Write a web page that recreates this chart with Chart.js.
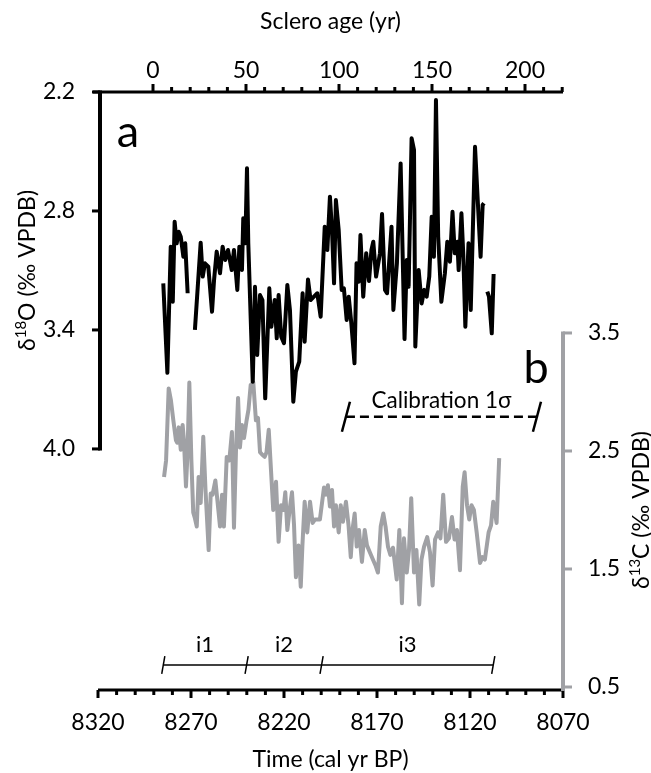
<!DOCTYPE html>
<html><head><meta charset="utf-8">
<script src="https://cdn.jsdelivr.net/npm/chart.js@4.4.0/dist/chart.umd.min.js"></script>
<style>html,body{margin:0;padding:0;background:#fff}#wrap{width:651px;height:773px}</style>
</head><body><div id="wrap"><canvas id="c" width="651" height="773"></canvas></div>
<script>
const timeTicks = [8320, 8270, 8220, 8170, 8120, 8070];
const scleroTicks = [0, 50, 100, 150, 200];
const d18OTicks = [2.2, 2.8, 3.4, 4.0];
const d13CTicks = [0.5, 1.5, 2.5, 3.5];

const d18OTime = [8284.9,8282.7,8280.9,8279.8,8278.8,8277.7,8276.6,8275.5,8274.1,8273.1,8271.8,8270.0,
8267.9,8264.8,8263.7,8262.5,8260.7,8258.7,8257.6,8256.2,8254.4,8253.0,8251.6,8250.1,8248.1,8246.9,8245.1,8244.0,8242.6,8241.9,8240.8,8239.9,8239.2,
8236.8,8235.6,8234.4,8232.9,8231.6,8230.1,8227.9,8226.8,8225.0,8223.9,8222.9,8221.5,8220.0,8218.2,8216.8,8215.0,8213.6,8211.8,8210.0,8208.9,8207.1,8205.7,8203.9,8202.1,8200.3,
8198.1,8196.7,8195.3,8194.2,8193.1,8192.1,8190.6,8189.0,8187.8,8186.3,8185.2,8183.8,8182.1,8181.0,8179.8,8178.9,8177.4,8175.8,8174.3,8173.0,8172.0,8170.5,8168.4,8167.3,8165.7,8164.6,8162.2,8161.2,8159.3,8157.3,
8155.2,8154.0,8153.0,8151.4,8150.1,8149.4,8147.6,8146.0,8144.6,8143.3,8141.9,8140.6,8139.4,8138.3,8137.1,8135.4,8133.5,8132.2,8130.8,8129.4,8128.2,8126.8,8126.1,8124.6,8123.6,8122.5,8120.8,8119.6,8117.3,8114.3,8113.2,8112.5,8111.6,
8110.7,8109.8,8108.3,8107.3];
const d18OValue = [3.165,3.616,2.980,3.258,2.854,2.963,2.905,2.930,3.031,2.963,3.215,null,
3.400,2.960,3.131,3.064,3.081,3.308,3.148,3.005,3.114,2.980,3.047,2.997,3.098,2.997,3.198,2.980,3.098,2.837,2.963,2.585,2.963,
3.661,3.182,3.526,3.224,3.249,3.745,3.190,3.384,3.249,3.442,3.224,3.434,3.467,3.173,3.300,3.762,3.610,3.560,3.215,3.459,3.145,3.249,3.232,3.215,3.333,
2.879,2.997,2.728,2.896,3.165,2.745,2.896,3.198,3.190,3.350,3.232,3.366,3.568,3.064,3.157,2.921,3.232,3.013,3.153,2.997,2.955,3.131,3.013,2.815,3.198,3.215,2.879,3.299,3.064,2.560,
3.446,3.047,3.182,2.433,2.492,3.484,3.098,3.266,3.198,3.232,3.131,2.829,3.031,2.240,2.930,3.258,3.114,2.955,3.056,2.804,3.013,2.955,3.098,2.812,3.022,3.384,2.963,3.299,2.476,3.031,2.770,2.761,null,
3.207,3.232,3.417,3.118];

const d13CTime = [8284.5,8283.4,8282.0,8280.8,8279.5,8278.1,8277.4,8276.6,8275.5,8274.5,
8273.8,8272.7,8271.9,8270.9,8269.8,8268.8,8267.9,8266.9,8265.9,8264.8,
8263.4,8262.2,8260.5,8259.4,8258.4,8256.9,8255.8,8254.4,8253.3,8252.3,
8250.8,8249.4,8248.0,8246.9,8245.8,8244.7,8243.7,8242.6,8241.5,8240.1,
8239.1,8237.9,8236.5,8235.1,8234.0,8232.9,8231.8,8230.4,8229.4,8228.2,
8227.0,8225.8,8224.3,8222.9,8221.6,8220.3,8219.3,8218.2,8217.0,8215.7,
8214.6,8213.6,8212.2,8211.0,8210.1,8208.9,8207.5,8206.0,8204.6,8203.3,
8202.0,8200.7,8198.5,8197.4,8196.4,8195.3,8194.2,8193.1,8192.1,8190.6,
8189.5,8188.3,8186.7,8185.3,8184.1,8183.2,8182.0,8180.9,8179.7,8178.1,
8176.6,8175.4,8173.8,8172.2,8170.8,8169.5,8168.0,8166.6,8165.4,8164.1,
8162.8,8161.4,8159.4,8158.0,8156.6,8155.5,8154.0,8152.8,8151.6,8150.1,
8148.8,8147.3,8146.1,8144.7,8143.0,8141.5,8140.1,8138.8,8137.2,8135.9,
8134.4,8132.9,8131.3,8129.7,8128.3,8127.0,8125.4,8123.9,8122.9,8121.6,
8120.4,8119.2,8117.9,8116.4,8114.6,8113.3,8112.0,8110.0,8108.7,8107.5,
8105.7,8104.3];
const d13CValue = [2.28,2.42,3.03,2.93,2.76,2.59,2.57,2.70,2.51,2.72,
2.59,2.20,2.47,3.08,2.42,1.98,1.93,1.86,2.28,2.06,
2.62,2.17,1.66,2.14,2.13,2.25,2.08,1.86,2.13,1.86,
2.45,2.42,2.66,1.85,2.51,2.95,2.53,2.72,2.61,2.76,
2.85,3.06,3.08,2.76,2.78,2.49,2.47,2.45,2.49,2.68,
2.34,2.00,2.24,1.73,2.04,2.00,2.15,1.83,2.00,2.15,
1.87,1.43,1.70,1.35,1.70,2.07,1.81,2.07,1.89,1.92,
1.92,1.92,2.19,2.13,2.21,2.03,2.17,1.86,2.04,1.81,
2.04,1.90,2.07,1.87,1.60,1.83,1.97,1.69,1.83,1.56,
1.83,1.70,1.64,1.58,1.53,1.47,1.86,1.97,1.86,1.69,
1.62,1.68,1.41,1.83,1.21,1.76,1.47,1.66,2.10,1.47,
1.66,1.20,1.58,1.69,1.77,1.64,1.36,1.75,1.81,1.76,
2.13,1.73,1.76,1.94,1.75,1.83,1.49,2.20,2.32,2.04,
1.92,2.04,2.00,1.81,1.55,1.60,1.58,1.81,1.87,2.07,
1.89,2.44];

const intervalTime = [8284.9, 8240.1, 8199.8, 8107.5];
const intervalLabels = ['i1', 'i2', 'i3'];
const intervalLevel = 0.686;      // on the δ13C scale
const calibrationTime = [8186.7, 8084.0];
const calibrationLevel = 2.79;    // on the δ13C scale
const calibrationLabel = 'Calibration 1σ';

const FONT = "Lato, 'Open Sans', sans-serif";
const GRAY = '#a0a1a5';

function pts(xs, ys) { return xs.map((t, i) => ({ x: t, y: ys[i] })); }
function setTicks(vals) { return s => { s.ticks = vals.map(v => ({ value: v })); }; }

function richText(ctx, parts, cx, cy, rot) {
  ctx.save();
  ctx.translate(cx, cy);
  ctx.rotate(rot);
  ctx.textBaseline = 'alphabetic';
  ctx.textAlign = 'left';
  let total = 0;
  parts.forEach(p => { ctx.font = p.font; total += ctx.measureText(p.t).width; });
  let x = -total / 2;
  parts.forEach(p => {
    ctx.font = p.font;
    ctx.fillStyle = '#000';
    ctx.fillText(p.t, x, 8 + (p.dy || 0));
    x += ctx.measureText(p.t).width;
  });
  ctx.restore();
}

const axesPlugin = {
  id: 'axesDeco',
  beforeDatasetsDraw(chart) {
    const ctx = chart.ctx;
    const { x, xTop, y, yR } = chart.scales;
    const ca = chart.chartArea;
    ctx.save();
    ctx.lineCap = 'butt';
    const seg = (x1, y1, x2, y2) => { ctx.beginPath(); ctx.moveTo(x1, y1); ctx.lineTo(x2, y2); ctx.stroke(); };
    // top axis
    ctx.strokeStyle = '#000';
    ctx.lineWidth = 3;
    seg(ca.left - 5, ca.top, ca.right, ca.top);
    for (let v = 0; v <= 220; v += 10) {
      const px = xTop.getPixelForValue(v);
      seg(px, ca.top, px, ca.top - (v % 50 === 0 ? 8 : 5));
    }
    // bottom axis
    seg(ca.left, ca.bottom, ca.right, ca.bottom);
    for (let v = 8320; v >= 8070; v -= 10) {
      const px = x.getPixelForValue(v);
      seg(px, ca.bottom, px, ca.bottom + (v % 50 === 20 ? 8 : 5));
    }
    // left axis
    const lx = ca.left + 2;
    ctx.lineWidth = 4;
    seg(lx, y.getPixelForValue(2.2) - 1.5, lx, y.getPixelForValue(4.0) + 1.5);
    ctx.lineWidth = 3;
    d18OTicks.forEach(v => { const py = y.getPixelForValue(v); seg(lx - 8, py, lx, py); });
    // right axis
    ctx.strokeStyle = GRAY;
    ctx.lineWidth = 4;
    seg(ca.right, yR.getPixelForValue(3.5) - 1.5, ca.right, ca.bottom + 1);
    ctx.lineWidth = 3;
    d13CTicks.forEach(v => { const py = yR.getPixelForValue(v); seg(ca.right, py, ca.right + 9, py); });
    ctx.restore();
  },
  afterDraw(chart) {
    const ctx = chart.ctx;
    const { x, y, yR } = chart.scales;
    const ca = chart.chartArea;
    ctx.save();
    ctx.fillStyle = '#000';
    ctx.textAlign = 'center';
    ctx.textBaseline = 'middle';
    ctx.font = '23px ' + FONT;
    ctx.fillText('Sclero age (yr)', (ca.left + ca.right) / 2, 22);
    ctx.fillText('Time (cal yr BP)', (ca.left + ca.right) / 2, 760);
    const main = '23px ' + FONT, sup = '15px ' + FONT;
    richText(ctx, [{ t: 'δ', font: main }, { t: '18', font: sup, dy: -9 }, { t: 'O (‰ VPDB)', font: main }],
      27, (y.getPixelForValue(2.2) + y.getPixelForValue(4.0)) / 2, -Math.PI / 2);
    richText(ctx, [{ t: 'δ', font: main }, { t: '13', font: sup, dy: -9 }, { t: 'C (‰ VPDB)', font: main }],
      641, (yR.getPixelForValue(0.5) + yR.getPixelForValue(3.5)) / 2, -Math.PI / 2);
    // panel letters
    ctx.font = '45px ' + FONT;
    ctx.textBaseline = 'alphabetic';
    ctx.fillText('a', 128, 147);
    ctx.fillText('b', 536, 383);
    // calibration label
    ctx.font = '22.5px ' + FONT;
    ctx.textBaseline = 'middle';
    const cx = (x.getPixelForValue(calibrationTime[0]) + x.getPixelForValue(calibrationTime[1])) / 2;
    ctx.fillText(calibrationLabel, cx, yR.getPixelForValue(calibrationLevel) - 16);
    // interval labels
    ctx.font = '22px ' + FONT;
    const iy = yR.getPixelForValue(intervalLevel) - 20;
    intervalLabels.forEach((lab, i) => {
      const mx = (x.getPixelForValue(intervalTime[i]) + x.getPixelForValue(intervalTime[i + 1])) / 2;
      ctx.fillText(lab, mx, iy);
    });
    ctx.restore();
  }
};

const tickFont = { family: FONT, size: 23 };

new Chart(document.getElementById('c'), {
  type: 'line',
  data: {
    datasets: [
      { label: 'd18O', data: pts(d18OTime, d18OValue), xAxisID: 'x', yAxisID: 'y',
        borderColor: '#000', borderWidth: 4, pointRadius: 0, spanGaps: false,
        borderJoinStyle: 'round', tension: 0 },
      { label: 'd13C', data: pts(d13CTime, d13CValue), xAxisID: 'x', yAxisID: 'yR',
        borderColor: GRAY, borderWidth: 4, pointRadius: 0,
        borderJoinStyle: 'round', tension: 0 },
      { label: 'intervals', data: intervalTime.map(t => ({ x: t, y: intervalLevel })), xAxisID: 'x', yAxisID: 'yR',
        borderColor: '#000', borderWidth: 1.5, pointStyle: 'line', pointRadius: 9, pointRotation: 100,
        pointBorderWidth: 1.5, pointBorderColor: '#000', tension: 0 },
      { label: 'calibration', data: calibrationTime.map(t => ({ x: t, y: calibrationLevel })), xAxisID: 'x', yAxisID: 'yR',
        borderColor: '#000', borderWidth: 2.5, borderDash: [9, 5], pointStyle: 'line', pointRadius: 15.5,
        pointRotation: 105, pointBorderWidth: 2.5, pointBorderColor: '#000', tension: 0 }
    ]
  },
  options: {
    responsive: false, animation: false, maintainAspectRatio: false,
    layout: { padding: 0 },
    plugins: { legend: { display: false }, tooltip: { enabled: false } },
    scales: {
      x: { type: 'linear', position: 'bottom', reverse: true, min: 8070, max: 8320,
        afterBuildTicks: setTicks(timeTicks), afterFit: s => { s.height = 83; },
        grid: { display: false, drawTicks: false }, border: { display: false },
        ticks: { font: tickFont, color: '#000', padding: 19, maxRotation: 0, autoSkip: false, callback: v => String(v) } },
      xTop: { type: 'linear', position: 'top', min: -29.57, max: 220.43,
        afterBuildTicks: setTicks(scleroTicks), afterFit: s => { s.height = 92; },
        grid: { display: false, drawTicks: false }, border: { display: false },
        ticks: { font: tickFont, color: '#000', padding: 8, maxRotation: 0, autoSkip: false, callback: v => String(v) } },
      y: { type: 'linear', position: 'left', reverse: true, min: 2.2, max: 5.2157,
        afterBuildTicks: setTicks(d18OTicks), afterFit: s => { s.width = 98; },
        grid: { display: false, drawTicks: false }, border: { display: false },
        ticks: { font: tickFont, color: '#000', padding: 23, autoSkip: false, callback: v => v.toFixed(1) } },
      yR: { type: 'linear', position: 'right', min: 0.4746, max: 5.542,
        afterBuildTicks: setTicks(d13CTicks), afterFit: s => { s.width = 88; },
        grid: { display: false, drawTicks: false }, border: { display: false },
        ticks: { font: tickFont, color: '#000', padding: 25, autoSkip: false, callback: v => v.toFixed(1) } }
    }
  },
  plugins: [axesPlugin]
});
</script>
</body></html>
